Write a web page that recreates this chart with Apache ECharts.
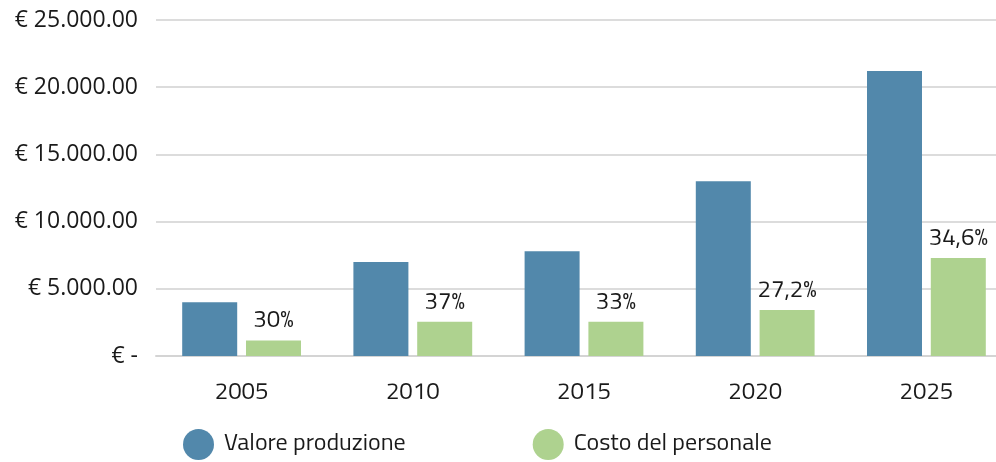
<!DOCTYPE html>
<html>
<head>
<meta charset="utf-8">
<script src="https://cdn.jsdelivr.net/npm/echarts@6/dist/echarts.min.js"></script>
<style>
html,body{margin:0;padding:0;background:#fff;overflow:hidden;width:996px;height:462px;}
#chart{width:1012px;height:462px;}
</style>
</head>
<body>
<div id="chart"></div>
<script>
const categories = ['2005', '2010', '2015', '2020', '2025'];
const valoreProduzione = [4000, 7000, 7800, 13000, 21200];
const costoPersonale = [1150, 2550, 2550, 3430, 7300];
const percentLabels = ['30%', '37%', '33%', '27,2%', '34,6%'];
const yTicks = { min: 0, max: 25000, interval: 5000 };

const narrow = "'Titillium Web','Liberation Sans Narrow','Roboto',sans-serif";

function fmtEuro(v) {
  if (v === 0) return '€ -';
  const s = Math.round(v).toString().replace(/\B(?=(\d{3})+(?!\d))/g, '.');
  return '€ ' + s + '.00';
}

const chart = echarts.init(document.getElementById('chart'), null, { renderer: 'canvas' });
chart.setOption({
  animation: false,
  backgroundColor: '#ffffff',
  grid: { left: 156, top: 20, right: 0, height: 336, containLabel: false },
  legend: {
    left: 183,
    top: 429,
    padding: 0,
    itemGap: 127,
    itemWidth: 31,
    itemHeight: 31,
    icon: 'circle',
    textStyle: { fontFamily: narrow, fontSize: 24, color: '#1a1a1a', padding: [0, 0, 0, 5] },
    data: ['Valore produzione', 'Costo del personale']
  },
  xAxis: {
    type: 'category',
    data: categories,
    axisLine: { show: true, lineStyle: { color: '#d4d4d4', width: 2 } },
    axisTick: { show: false },
    axisLabel: { margin: 25, fontFamily: narrow, fontSize: 24, color: '#1a1a1a' }
  },
  yAxis: {
    type: 'value',
    min: yTicks.min,
    max: yTicks.max,
    interval: yTicks.interval,
    axisLine: { show: false },
    axisTick: { show: false },
    splitLine: { lineStyle: { color: '#dcdcdc', width: 2 } },
    axisLabel: { margin: 18, fontFamily: "'Open Sans',sans-serif", fontSize: 23, color: '#1a1a1a', formatter: fmtEuro }
  },
  series: [
    {
      name: 'Valore produzione',
      type: 'bar',
      data: valoreProduzione,
      barWidth: 55,
      barGap: '16%',
      itemStyle: { color: '#5288AB' }
    },
    {
      name: 'Costo del personale',
      type: 'bar',
      data: costoPersonale,
      barWidth: 55,
      itemStyle: { color: '#AED28F' },
      label: {
        show: true,
        position: 'top',
        distance: 7,
        fontFamily: narrow,
        fontSize: 24,
        color: '#1a1a1a',
        formatter: p => percentLabels[p.dataIndex]
      }
    }
  ]
});
</script>
</body>
</html>
